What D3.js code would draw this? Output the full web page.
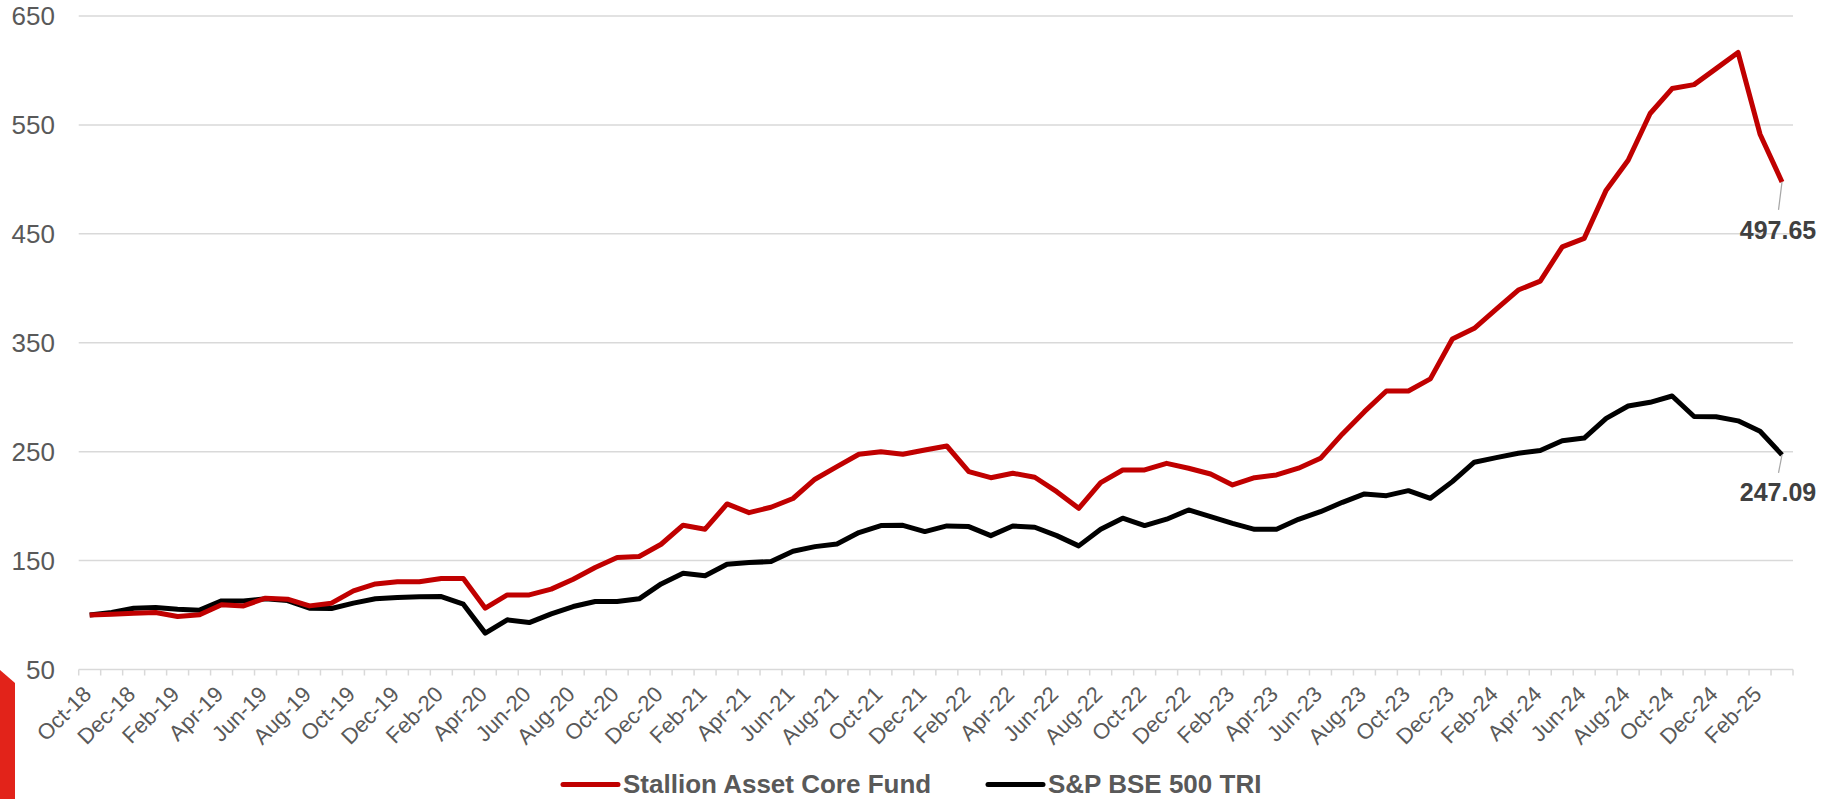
<!DOCTYPE html>
<html>
<head>
<meta charset="utf-8">
<script src="https://cdn.jsdelivr.net/npm/d3@7"></script>
<style>
  html, body { margin: 0; padding: 0; background: #fff; }
  svg { display: block; font-family: "Liberation Sans", Arial, sans-serif; }
</style>
</head>
<body>
<div id="chart"></div>
<script>
// months, Oct-18 .. Mar-25
const months = [
  "Oct-18","Nov-18","Dec-18","Jan-19","Feb-19","Mar-19","Apr-19","May-19","Jun-19","Jul-19","Aug-19","Sep-19",
  "Oct-19","Nov-19","Dec-19","Jan-20","Feb-20","Mar-20","Apr-20","May-20","Jun-20","Jul-20","Aug-20","Sep-20",
  "Oct-20","Nov-20","Dec-20","Jan-21","Feb-21","Mar-21","Apr-21","May-21","Jun-21","Jul-21","Aug-21","Sep-21",
  "Oct-21","Nov-21","Dec-21","Jan-22","Feb-22","Mar-22","Apr-22","May-22","Jun-22","Jul-22","Aug-22","Sep-22",
  "Oct-22","Nov-22","Dec-22","Jan-23","Feb-23","Mar-23","Apr-23","May-23","Jun-23","Jul-23","Aug-23","Sep-23",
  "Oct-23","Nov-23","Dec-23","Jan-24","Feb-24","Mar-24","Apr-24","May-24","Jun-24","Jul-24","Aug-24","Sep-24",
  "Oct-24","Nov-24","Dec-24","Jan-25","Feb-25","Mar-25"
];

const fundValues = [
  100, 100.8, 101.7, 102.3, 98.6, 100.2, 109.4, 108.4, 115.5, 114.6, 108.4, 110.9,
  122.2, 128.6, 130.5, 130.5, 133.5, 133.5, 106.3, 118.5, 118.5, 123.8, 132.9, 143.6,
  152.8, 153.7, 165, 182.5, 178.8, 202, 194, 199, 207, 224.7, 236.2, 247.6,
  250, 247.6, 251.6, 255.2, 231.7, 226.1, 230.2, 226.5, 213.3, 198, 221.6, 233.2,
  233.2, 239.3, 234.8, 229.5, 219.4, 226.1, 228.6, 234.8, 243.9, 266.3, 286.7, 305.7,
  305.7, 316.8, 353.5, 363.3, 380.8, 398.4, 406.6, 438.1, 445.8, 490.1, 517.6, 560.5,
  583.4, 587, 601.7, 616.5, 541.5, 497.65
];

const indexValues = [
  100, 102.3, 106.3, 106.9, 105.4, 104.5, 113, 113, 114.9, 113.3, 106.3, 106,
  110.9, 114.9, 116, 116.7, 117, 110, 83.4, 95.6, 93.1, 101.1, 107.8, 112.4,
  112.4, 114.9, 128.6, 138.4, 136, 146.7, 148.2, 149.1, 158.6, 162.8, 165.3, 175.7,
  182.1, 182.4, 176.6, 181.8, 181.2, 172.9, 181.8, 180.6, 172.9, 163.5, 178.8, 188.9,
  182.1, 188, 196.5, 190.3, 184.2, 178.7, 178.7, 187.9, 194.9, 203.5, 211.2, 209.6,
  214.2, 207.2, 222.5, 240.3, 244.5, 248.5, 251, 260, 262.5, 280.6, 291.9, 295.3,
  301.1, 282.3, 282, 278.3, 268.7, 247.09
];

const seriesNames = ["Stallion Asset Core Fund", "S&P BSE 500 TRI"];
const seriesColors = ["#c00000", "#000000"];
const yTicks = [50, 150, 250, 350, 450, 550, 650];

const W = 1833, H = 799;
const plotLeft = 78.7, plotRight = 1793, plotTop = 16, plotBottom = 669.5;

const svg = d3.select("#chart").append("svg")
  .attr("width", W).attr("height", H);

// red corner decoration
svg.append("path")
  .attr("d", "M0,670 L15,683 L15,799 L0,799 Z")
  .attr("fill", "#e2231a");

const x = d3.scaleBand().domain(months).range([plotLeft, plotRight]).paddingInner(0).paddingOuter(0);
const y = d3.scaleLinear().domain([50, 650]).range([plotBottom, plotTop]);
const cx = d => x(d) + x.bandwidth() / 2;

// gridlines
svg.append("g")
  .selectAll("line")
  .data(yTicks.slice(1))
  .join("line")
  .attr("x1", plotLeft).attr("x2", plotRight)
  .attr("y1", d => y(d)).attr("y2", d => y(d))
  .attr("stroke", "#d9d9d9").attr("stroke-width", 1.5);

// y axis labels
svg.append("g")
  .selectAll("text")
  .data(yTicks)
  .join("text")
  .attr("x", 55).attr("y", d => y(d))
  .attr("dy", "0.36em")
  .attr("text-anchor", "end")
  .attr("font-size", 26)
  .attr("fill", "#595959")
  .text(d => d);

// x axis line + ticks at band boundaries
svg.append("line")
  .attr("x1", plotLeft).attr("x2", plotRight)
  .attr("y1", plotBottom).attr("y2", plotBottom)
  .attr("stroke", "#d9d9d9").attr("stroke-width", 1.5);

const bounds = months.map(m => x(m)).concat([plotRight]);
svg.append("g")
  .selectAll("line")
  .data(bounds)
  .join("line")
  .attr("x1", d => d).attr("x2", d => d)
  .attr("y1", plotBottom).attr("y2", plotBottom + 6)
  .attr("stroke", "#d9d9d9").attr("stroke-width", 1.5);

// x labels, every second month
svg.append("g")
  .selectAll("text")
  .data(months.filter((m, i) => i % 2 === 0))
  .join("text")
  .attr("text-anchor", "end")
  .attr("font-size", 22)
  .attr("fill", "#595959")
  .attr("transform", d => `translate(${cx(d) + 3},${plotBottom + 26}) rotate(-45)`)
  .text(d => d);

// lines
const line = d3.line()
  .x((d, i) => cx(months[i]))
  .y(d => y(d));

[indexValues, fundValues].forEach((vals, k) => {
  const idx = k === 0 ? 1 : 0;
  svg.append("path")
    .datum(vals)
    .attr("fill", "none")
    .attr("stroke", seriesColors[idx])
    .attr("stroke-width", 5)
    .attr("stroke-linejoin", "round")
    .attr("d", line);
});

// end labels with leader lines
const last = months[months.length - 1];
const endLabels = [
  { v: fundValues[fundValues.length - 1], lead: 28, dy: 57 },
  { v: indexValues[indexValues.length - 1], lead: 18, dy: 46 }
];
endLabels.forEach(l => {
  const px = cx(last), py = y(l.v);
  svg.append("line")
    .attr("x1", px).attr("y1", py)
    .attr("x2", px - 3.5).attr("y2", py + l.lead)
    .attr("stroke", "#a6a6a6").attr("stroke-width", 1.2);
  svg.append("text")
    .attr("x", px - 4).attr("y", py + l.dy)
    .attr("text-anchor", "middle")
    .attr("font-size", 25)
    .attr("font-weight", "bold")
    .attr("fill", "#404040")
    .text(l.v.toFixed(2));
});

// legend
const legend = [
  { name: seriesNames[0], color: seriesColors[0], x0: 563 },
  { name: seriesNames[1], color: seriesColors[1], x0: 988 }
];
const ly = 784.5;
legend.forEach(l => {
  svg.append("line")
    .attr("x1", l.x0).attr("x2", l.x0 + 55)
    .attr("y1", ly).attr("y2", ly)
    .attr("stroke", l.color).attr("stroke-width", 5)
    .attr("stroke-linecap", "round");
  svg.append("text")
    .attr("x", l.x0 + 60).attr("y", ly + 8)
    .attr("font-size", 26)
    .attr("font-weight", "bold")
    .attr("fill", "#595959")
    .text(l.name);
});
</script>
</body>
</html>
